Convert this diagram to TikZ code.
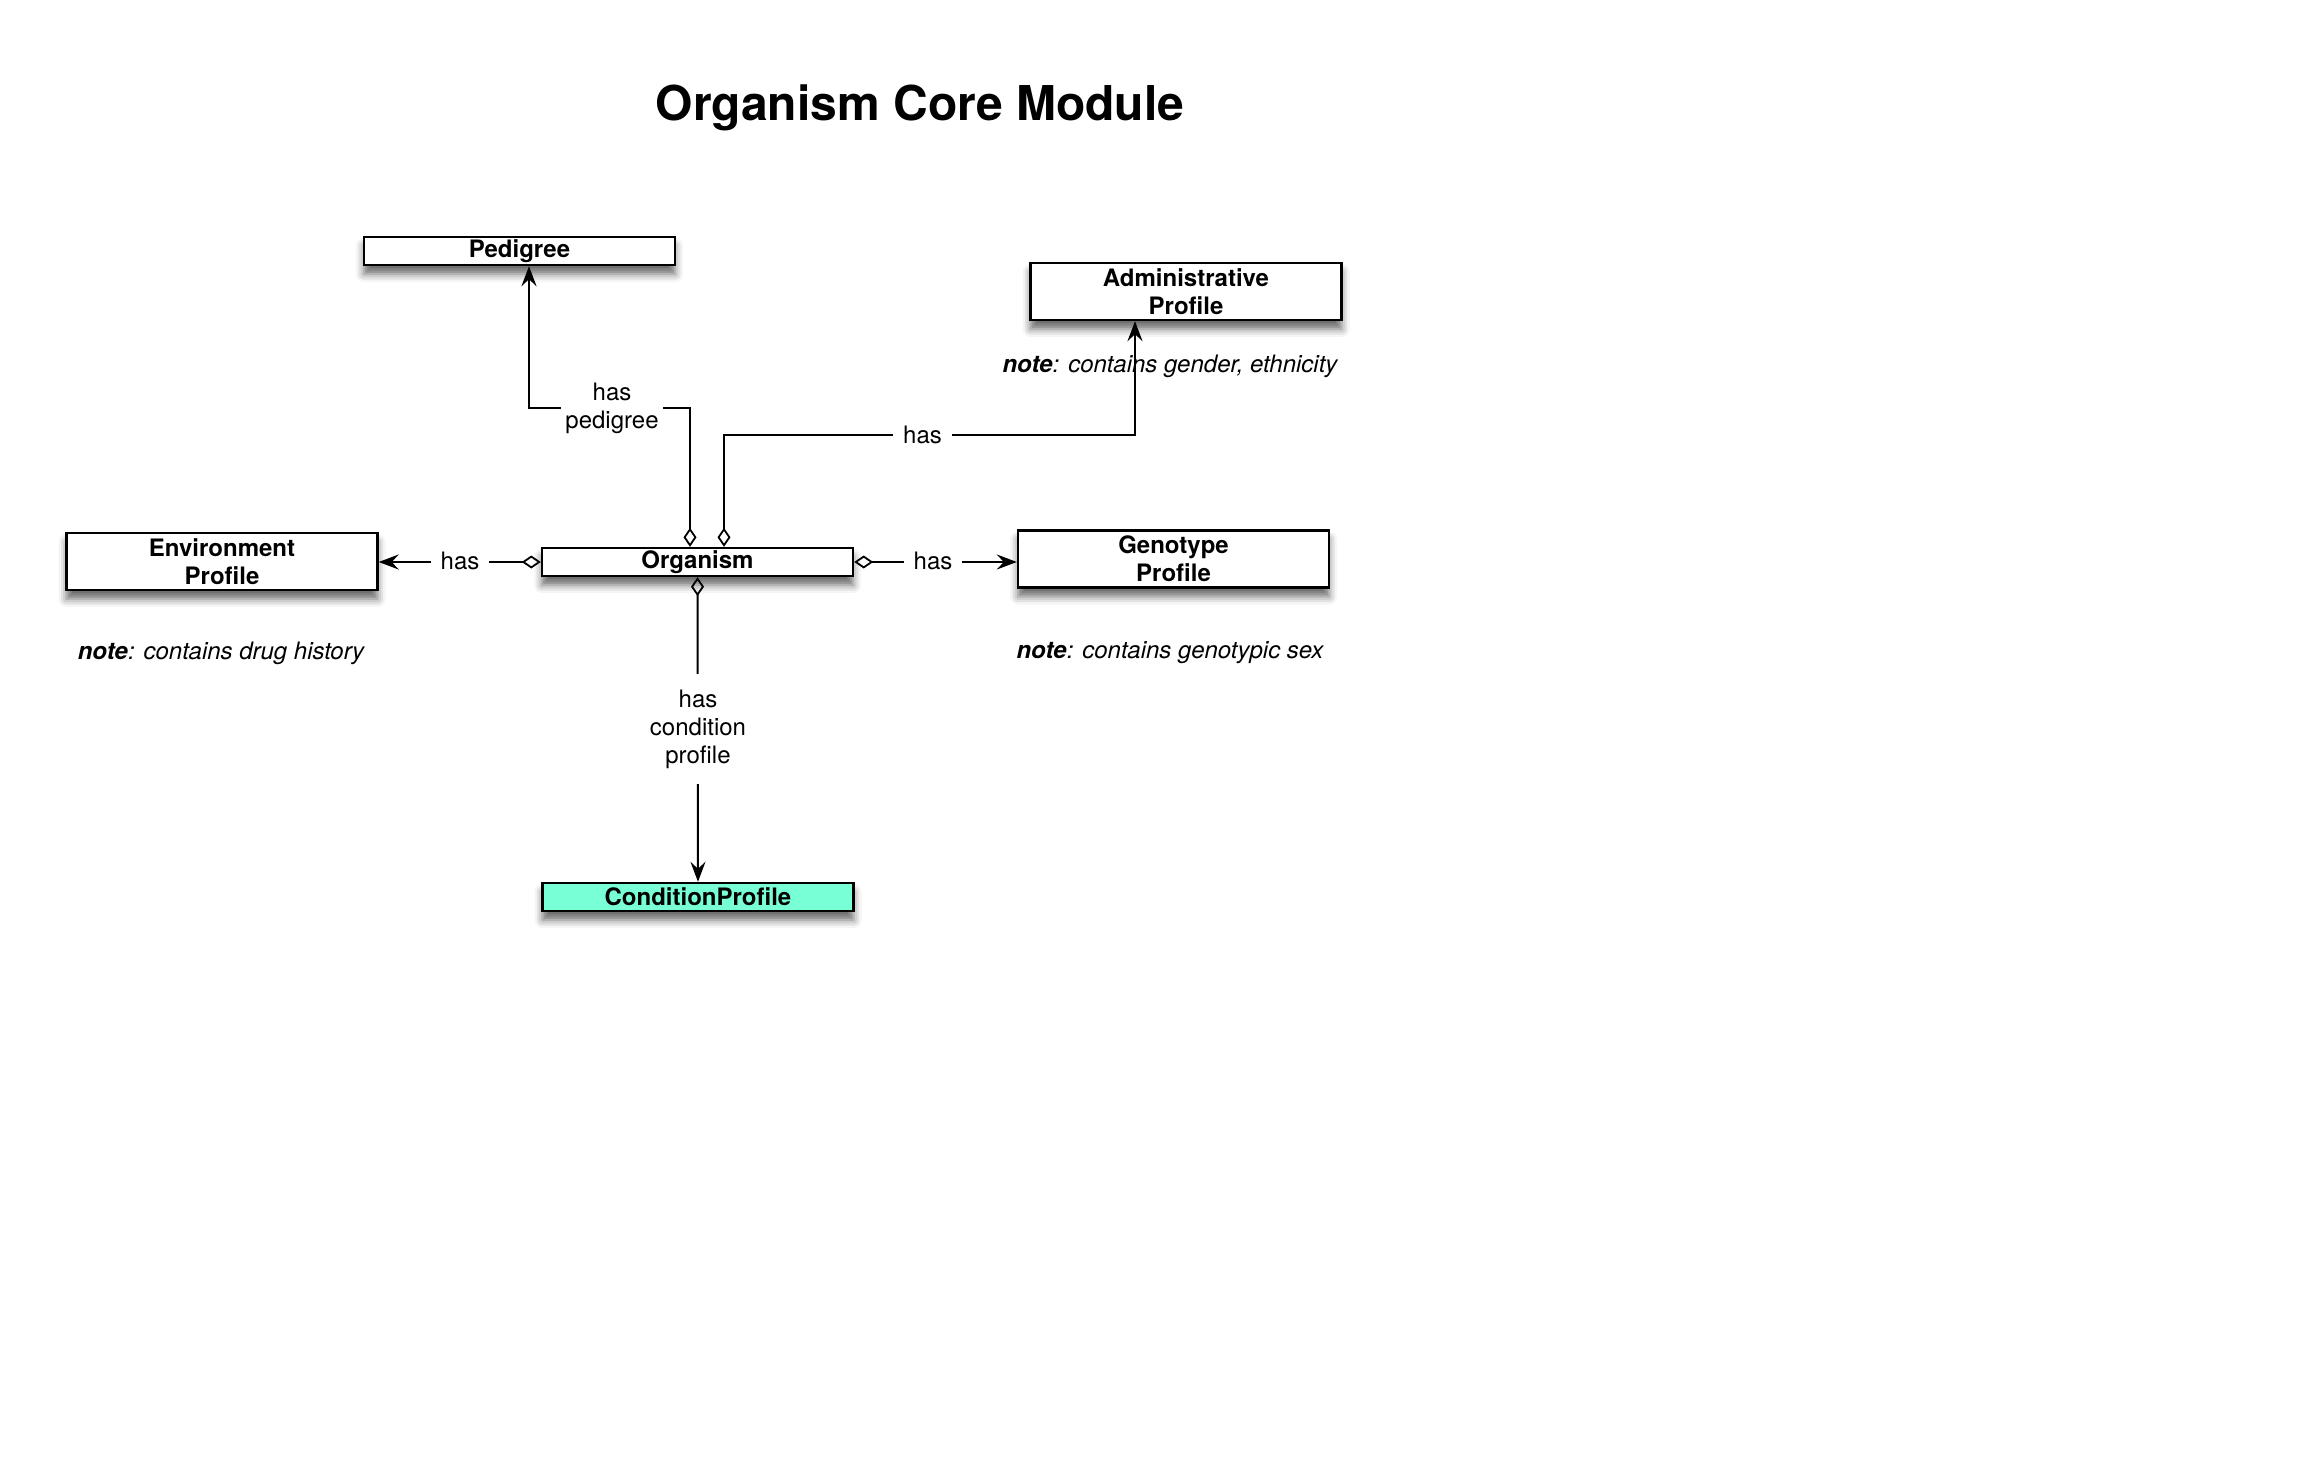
\documentclass[tikz,border=0pt]{standalone}
\usepackage{fontspec}
\setmainfont{TeX Gyre Heros}
\usetikzlibrary{arrows.meta,shadows.blur}
\definecolor{condfill}{RGB}{120,255,214}
\begin{document}
\begin{tikzpicture}[x=0.5pt,y=-0.5pt,
  box/.style={draw, line width=1.2pt, fill=white, inner sep=0pt, align=center,
    font=\bfseries\fontsize{12}{14}\selectfont, minimum width=155.5pt,
    blur shadow={shadow xshift=0pt, shadow yshift=-4.5pt, shadow blur radius=4pt, shadow opacity=60}},
  onebox/.style={box, minimum height=14pt},
  twobox/.style={box, minimum height=28.5pt},
  conn/.style={line width=1pt, {Diamond[open,length=9.5pt,width=6.5pt,line width=0.9pt]}-{Stealth[length=10pt,width=7.5pt,inset=3.5pt]}},
  lbl/.style={fill=white, align=center, inner xsep=5pt, inner ysep=4pt, font=\fontsize{12}{14}\selectfont},
  notetext/.style={font=\itshape\fontsize{12}{14}\selectfont}
]
\useasboundingbox (0,0) rectangle (2304,1466);

\node[font=\bfseries\fontsize{24}{28}\selectfont, anchor=base] (title) at (920,121) {Organism Core Module};

\node[onebox] (ped) at (519.5,251) {Pedigree};
\node[twobox] (adm) at (1186,291.5) {Administrative\\Profile};
\node[twobox] (env) at (222,561.5) {Environment\\Profile};
\node[onebox] (org) at (697.5,562) {Organism};
\node[twobox] (gen) at (1173.5,559) {Genotype\\Profile};
\node[onebox, fill=condfill] (cond) at (698,897) {ConditionProfile};

\node[notetext] (admnote) at (1170,366) {\textbf{note}: contains gender, ethnicity};
\node[notetext] (envnote) at (221,653) {\textbf{note}: contains drug history};
\node[notetext] (gennote) at (1170,653) {\textbf{note}: contains genotypic sex};

\coordinate (pl) at (612,408);
\coordinate (al) at (922.5,435);
\coordinate (el) at (460,561);
\coordinate (gl) at (933,561);
\coordinate (cl) at (698,729);

\draw[conn] ([xshift=-3.75pt]org.north) |- (pl) -| ([xshift=4.75pt]ped.south);
\draw[conn] ([xshift=13.25pt]org.north) |- (al) -| ([xshift=-25.5pt]adm.south);
\draw[conn] (org.west) -- (org.west -| env.east);
\draw[conn] (org.east) -- (org.east -| gen.west);
\draw[conn] (org.south) -- (cond.north);

\node[lbl, inner xsep=2pt] at (pl) {has\\pedigree};
\node[lbl] at (al) {has};
\node[lbl] at (el) {has};
\node[lbl] at (gl) {has};
\node[lbl, inner ysep=8pt] at (cl) {has\\condition\\profile};
\end{tikzpicture}
\end{document}
